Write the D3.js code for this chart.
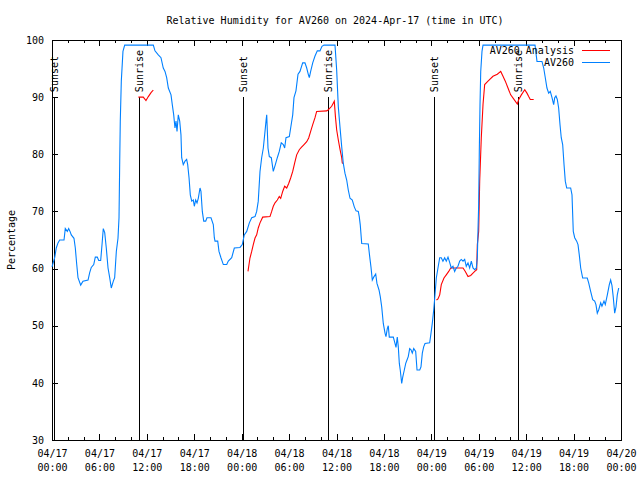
<!DOCTYPE html>
<html>
<head>
<meta charset="utf-8">
<script src="https://cdn.jsdelivr.net/npm/d3@7"></script>
<style>
  body { margin: 0; background: #fff; }
  svg text { font-family: "DejaVu Sans Mono", monospace; font-size: 10px; fill: #000; }
</style>
</head>
<body>
<div id="chart"></div>
<script>
// hours after 2024-04-17 00:00 UTC, relative humidity (%)
var startTime = Date.UTC(2024, 3, 17, 0, 0);

var avObs = [
  [0.00,60.3],[0.34,61.9],[0.54,63.6],[0.76,64.5],[0.97,65],[1.52,65],[1.68,67],[1.94,66.5],
  [2.11,67],[2.28,66.5],[2.44,65.9],[2.78,65.3],[2.95,63.6],[3.13,60.7],[3.29,58.4],[3.63,57.1],
  [3.92,57.8],[4.56,58],[4.77,59.3],[4.97,60.2],[5.28,60.7],[5.48,62],[5.73,62],[5.91,61.4],
  [6.16,61.4],[6.33,64.2],[6.49,67],[6.67,66.3],[6.87,63.6],[7.09,60.1],[7.30,58.4],[7.50,56.6],
  [7.76,57.8],[7.93,58.4],[8.14,63],[8.35,65.3],[8.48,68.9],[8.57,78.8],[8.64,85.8],[8.77,92.8],
  [8.98,98],[9.20,99.1],[12.82,99.1],[13.03,98.1],[13.45,97.4],[13.79,96.9],[14.08,95.1],[14.30,94.5],
  [14.51,93.4],[14.72,91.6],[15.06,90.4],[15.22,88.7],[15.40,86.9],[15.56,84.6],[15.69,85.8],[15.82,84],
  [15.98,86.9],[16.16,85.8],[16.32,83.4],[16.41,79.4],[16.61,78.2],[16.83,78.8],[17.04,79.1],[17.17,78.2],
  [17.34,75.9],[17.50,72.9],[17.68,71.8],[17.88,72],[18.01,70.9],[18.18,72],[18.35,71.5],[18.51,72.3],
  [18.73,74.1],[18.85,73.5],[19.02,70],[19.20,68.3],[19.45,68.3],[19.61,68.9],[20.12,68.9],[20.41,67.7],
  [20.54,65.4],[20.63,64.8],[20.97,64.8],[21.13,63],[21.38,61.9],[21.68,60.7],[22.11,60.7],[22.31,61.3],
  [22.74,61.9],[23.07,63.6],[23.79,63.7],[24.08,64.2],[24.33,65.9],[24.64,66.5],[24.97,68],[25.27,68.9],
  [25.69,69.1],[25.90,70],[26.10,71.8],[26.32,77],[26.53,79.4],[26.74,81.1],[26.91,83.4],[27.08,85.8],
  [27.17,86.9],[27.33,81.1],[27.50,79.6],[27.75,79.4],[28.00,77],[28.26,78.2],[28.51,79.4],[28.76,80.5],
  [29.01,82],[29.27,81.7],[29.44,81.1],[29.61,82.9],[30.03,83.1],[30.20,84.6],[30.46,86.9],[30.62,89.9],
  [30.87,91.1],[31.13,94],[31.38,94.5],[31.72,96],[32.01,96],[32.23,95.1],[32.43,94],[32.56,93.4],
  [32.73,94.5],[32.99,96],[33.28,97.2],[33.57,98.1],[33.91,98.1],[34.16,98.9],[34.42,99.1],[35.81,99.1],
  [36.02,94.8],[36.23,88.3],[36.44,84.8],[36.66,81.3],[36.86,78.4],[37.07,76.7],[37.29,75.5],[37.49,73.75],
  [37.71,72.3],[38.00,72],[38.25,70.8],[38.47,70.1],[38.76,70],[38.88,69.1],[39.01,67.6],[39.19,64.4],
  [40.02,64.3],[40.20,62.1],[40.36,60.3],[40.53,58],[40.71,58.5],[40.96,59.05],[41.12,57.4],[41.38,56.25],
  [41.54,55.1],[41.72,53.3],[41.92,50.4],[42.14,48.7],[42.26,48.1],[42.43,49.5],[42.55,50],[42.68,48],
  [43.19,48],[43.40,46.9],[43.53,46.2],[43.69,48],[43.82,46.3],[43.95,43.4],[44.07,42.2],[44.25,39.9],
  [44.38,41],[44.58,42.25],[44.76,43.4],[44.92,44],[45.08,44.6],[45.26,46],[45.43,45.8],[45.59,45.2],
  [45.77,46],[46.02,45.5],[46.19,42.25],[46.53,42.25],[46.69,42.8],[46.86,45.2],[47.03,46.3],[47.20,46.9],
  [47.79,47],[47.96,48.7],[48.12,50.4],[48.30,52.75],[48.43,54.85],[48.63,58.35],[48.84,60.1],[49.06,61.9],
  [49.26,61.9],[49.47,61.3],[49.69,61.9],[49.89,61.3],[50.11,62],[50.32,61.1],[50.52,60.1],[50.74,60.4],
  [50.95,59.5],[51.16,60.1],[51.37,60.4],[51.59,61.3],[51.79,61.6],[52.01,61.3],[52.22,61.6],[52.42,60.4],
  [52.64,61],[52.85,60.1],[53.06,61.3],[53.27,60.1],[53.49,59.8],[53.69,60.1],[53.82,61.9],[53.90,66.5],
  [53.99,71.2],[54.07,80.5],[54.16,88.7],[54.25,94.5],[54.41,98],[54.54,99.1],[61.12,99.1],[61.37,96.25],
  [62.00,96.25],[62.22,95.1],[62.42,93.4],[62.63,91.6],[62.85,90.7],[63.05,91],[63.27,89.9],[63.48,88.7],
  [63.61,89.9],[63.77,90.2],[63.94,89.6],[64.11,88.1],[64.28,85.2],[64.44,82.9],[64.62,81.7],[64.79,78.2],
  [64.95,75.3],[65.13,74.1],[65.63,74.1],[65.80,72.9],[65.96,66.5],[66.14,65.4],[66.39,64.8],[66.56,64.2],
  [66.72,62.4],[66.90,60.1],[67.15,58.35],[67.73,58.35],[67.91,57.5],[68.16,56],[68.42,54.55],[68.67,54.3],
  [68.83,53.7],[69.00,52.2],[69.18,52.8],[69.43,54],[69.59,53.4],[69.85,54.3],[70.01,53.7],[70.27,55.4],
  [70.52,57.2],[70.69,58],[70.86,57],[71.02,55],[71.20,52.2],[71.37,53.3],[71.53,55.4],[71.71,56.6]
];

// analysis series, null marks a gap
var avAnalysis = [
  [10.93,90],[11.55,90],[11.89,89.4],[12.19,90.1],[12.53,90.8],[12.82,91.25],
  null,
  [24.80,59.5],[25.05,61.85],[25.27,63],[25.47,64.2],[25.69,65.35],[25.90,65.9],[26.10,67.1],[26.32,68],
  [26.66,69],[27.58,69.1],[27.80,70],[28.00,70.9],[28.22,71.5],[28.51,72],[28.76,72.6],[28.94,72.3],
  [29.19,73.5],[29.44,74.4],[29.70,74.1],[29.95,74.9],[30.20,75.85],[30.46,77],[30.71,78.5],[30.96,79.9],
  [31.29,80.8],[31.55,81.2],[31.89,81.7],[32.23,82.2],[32.48,82.85],[32.73,84],[32.99,85.2],[33.28,86.4],
  [33.49,87.5],[34.76,87.6],[34.96,87.8],[35.39,88.4],[35.72,89.3],[35.87,86.5],[36.02,84.3],[36.23,82.5],
  [36.44,80.9],[36.66,79.4],[36.73,78.5],[36.86,78.4],
  null,
  [48.65,54.5],[48.84,54.7],[49.06,55.4],[49.26,57.2],[49.60,58.35],[49.89,58.9],[50.20,59.5],[50.45,60.1],
  [52.01,60.1],[52.30,59.5],[52.64,58.6],[52.98,58.8],[53.27,59.2],[53.49,59.5],[53.74,59.8],[53.82,64.2],
  [53.99,66.5],[54.12,75.3],[54.32,82.85],[54.54,88.7],[54.75,92.2],[55.17,92.8],[55.80,93.65],[56.35,94],
  [56.78,94.5],[57.07,93.65],[57.36,92.8],[57.70,91.6],[58.04,90.4],[58.46,89.6],[58.88,88.8],[59.06,89.6],
  [59.39,90.4],[59.82,91.3],[60.10,90.7],[60.32,90.1],[60.52,89.6],[60.95,89.6]
];

var sunHours = [0.25, 10.97, 24.2, 34.97, 48.3, 59.0];
var sunLabels = ["Sunset", "Sunrise", "Sunset", "Sunrise", "Sunset", "Sunrise"];

var yTicks = [30, 40, 50, 60, 70, 80, 90, 100];
var seriesNames = ["AV260 Analysis", "AV260"];
var seriesColors = ["#ff0000", "#0080ff"];

function toDate(h) { return new Date(startTime + h * 3600e3); }

var W = 640, H = 480;
var margin = {top: 40, right: 19, bottom: 40, left: 52};
var width = W - margin.left - margin.right;
var height = H - margin.top - margin.bottom;

var svgRoot = d3.select("#chart").append("svg")
    .attr("width", W)
    .attr("height", H);

var svg = svgRoot.append("g")
    .attr("transform", "translate(" + margin.left + "," + margin.top + ")");

var x = d3.scaleUtc()
    .domain([toDate(0), toDate(72)])
    .range([0, width]);
var y = d3.scaleLinear()
    .domain([30, 100])
    .range([height, 0]);

// minor x ticks every 2h
var minorTicks = x.ticks(d3.utcHour.every(2));
[0, height].forEach(function (yy, i) {
    svg.append("g")
        .selectAll("line")
        .data(minorTicks)
        .enter()
        .append("line")
        .attr("x1", function (d) { return Math.round(x(d)) + 0.5; })
        .attr("x2", function (d) { return Math.round(x(d)) + 0.5; })
        .attr("y1", yy)
        .attr("y2", i ? yy - 3 : yy + 3)
        .attr("stroke", "#000")
        .attr("shape-rendering", "crispEdges");
});

// X axis (major every 6h), two-line labels
var xAxis = svg.append("g")
    .attr("transform", "translate(0," + height + ")")
    .call(d3.axisBottom(x)
        .ticks(d3.utcHour.every(6))
        .tickSizeInner(-6)
        .tickSizeOuter(0)
        .tickPadding(0)
        .tickFormat(""));
xAxis.selectAll(".tick text").remove();
xAxis.selectAll(".tick")
    .append("text")
    .attr("text-anchor", "middle")
    .each(function (d) {
        var t = d3.select(this);
        t.append("tspan").attr("x", 0).attr("y", 17).text(d3.utcFormat("%m/%d")(d));
        t.append("tspan").attr("x", 0).attr("y", 31).text(d3.utcFormat("%H:%M")(d));
    });

svg.append("g")
    .call(d3.axisTop(x)
        .ticks(d3.utcHour.every(6))
        .tickSizeInner(-6)
        .tickSizeOuter(0)
        .tickFormat(""));

// Y axis
svg.append("g")
    .call(d3.axisLeft(y)
        .tickValues(yTicks)
        .tickSizeInner(-6)
        .tickSizeOuter(0)
        .tickPadding(8)
        .tickFormat(d3.format("d")));
svg.append("g")
    .attr("transform", "translate(" + width + ",0)")
    .call(d3.axisRight(y)
        .tickValues(yTicks)
        .tickSizeInner(-6)
        .tickSizeOuter(0)
        .tickFormat(""));

svg.selectAll(".domain").remove();
svg.selectAll(".tick line").attr("stroke", "#000").attr("shape-rendering", "crispEdges");
svg.selectAll(".tick text").attr("fill", "#000").style("font-family", "DejaVu Sans Mono").style("font-size", "10px");

// border
svg.append("rect")
    .attr("x", 0.5).attr("y", 0.5)
    .attr("width", width).attr("height", height)
    .attr("fill", "none")
    .attr("stroke", "#000")
    .attr("shape-rendering", "crispEdges");

// Sunrise / sunset markers
var sun = svg.append("g").selectAll("g")
    .data(sunHours)
    .enter()
    .append("g");
sun.append("line")
    .attr("x1", function (d) { return Math.round(x(toDate(d))) + 0.5; })
    .attr("x2", function (d) { return Math.round(x(toDate(d))) + 0.5; })
    .attr("y1", y(90))
    .attr("y2", y(30))
    .attr("stroke", "#000")
    .attr("shape-rendering", "crispEdges");
sun.append("text")
    .attr("transform", function (d) {
        return "translate(" + (x(toDate(d)) + 4) + "," + (y(90) - 5) + ") rotate(-90)";
    })
    .attr("text-anchor", "start")
    .text(function (d, i) { return sunLabels[i]; });

// lines
var line = d3.line()
    .defined(function (d) { return d != null; })
    .x(function (d) { return x(toDate(d[0])); })
    .y(function (d) { return y(d[1]); });

svg.append("path")
    .datum(avAnalysis)
    .attr("fill", "none")
    .attr("stroke", seriesColors[0])
    .attr("stroke-width", 1.1)
    .attr("d", line);

svg.append("path")
    .datum(avObs)
    .attr("fill", "none")
    .attr("stroke", seriesColors[1])
    .attr("stroke-width", 1.1)
    .attr("d", line);

// legend
var legend = svg.append("g").selectAll("g")
    .data(seriesNames)
    .enter()
    .append("g")
    .attr("transform", function (d, i) { return "translate(0," + (10 + i * 12) + ")"; });
legend.append("text")
    .attr("x", 522)
    .attr("y", 4)
    .attr("text-anchor", "end")
    .text(function (d) { return d; });
legend.append("line")
    .attr("x1", 530)
    .attr("x2", 558)
    .attr("y1", 0.5)
    .attr("y2", 0.5)
    .attr("stroke", function (d, i) { return seriesColors[i]; })
    .attr("shape-rendering", "crispEdges");

// title and y label
svgRoot.append("text")
    .attr("x", 335)
    .attr("y", 24)
    .attr("text-anchor", "middle")
    .text("Relative Humidity for AV260 on 2024-Apr-17 (time in UTC)");

svgRoot.append("text")
    .attr("transform", "translate(15,240) rotate(-90)")
    .attr("text-anchor", "middle")
    .text("Percentage");
</script>
</body>
</html>
